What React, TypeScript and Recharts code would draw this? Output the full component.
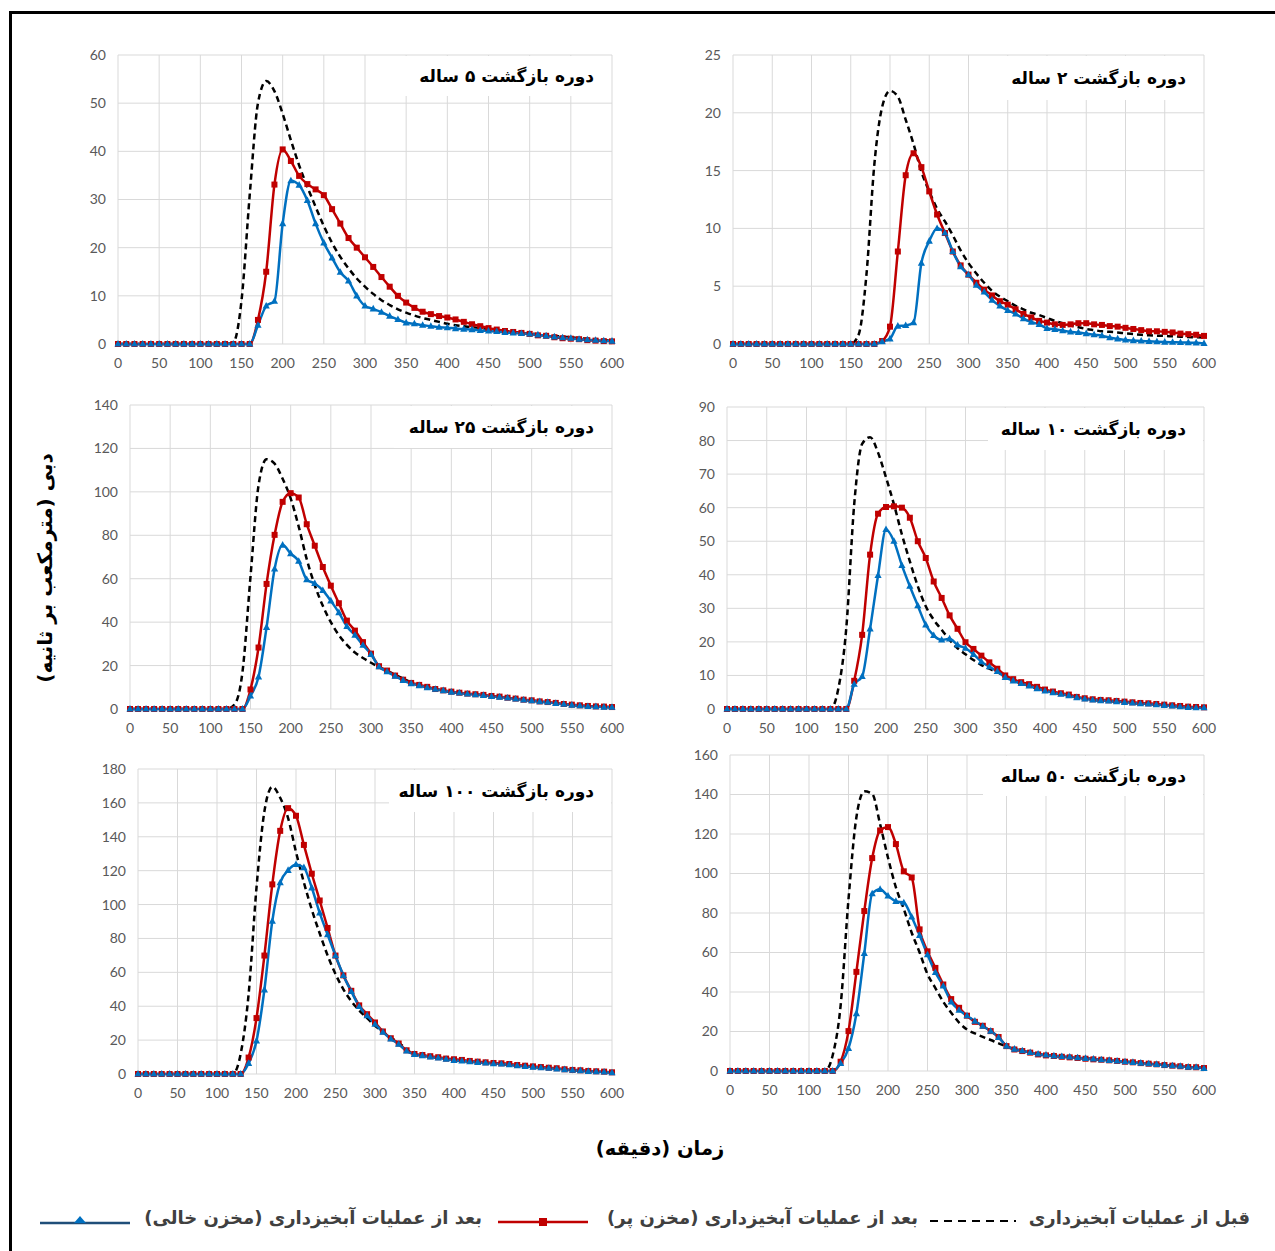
import { CartesianGrid, Line, LineChart, XAxis, YAxis } from "recharts";

// Minutes since start of storm, one sample every 10 minutes.
const TIME = [
  0, 10, 20, 30, 40, 50, 60, 70, 80, 90, 100, 110, 120, 130, 140, 150, 160, 170, 180, 190, 200,
  210, 220, 230, 240, 250, 260, 270, 280, 290, 300, 310, 320, 330, 340, 350, 360, 370, 380, 390,
  400, 410, 420, 430, 440, 450, 460, 470, 480, 490, 500, 510, 520, 530, 540, 550, 560, 570, 580,
  590, 600,
];
const X_TICKS = [0, 50, 100, 150, 200, 250, 300, 350, 400, 450, 500, 550, 600];

// --- 5 year return period ---
const BEFORE_5 = [
  0, 0, 0, 0, 0, 0, 0, 0, 0, 0, 0, 0, 0, 0, 0.3, 9, 31, 50, 54.6, 52.5, 47.8, 42.3, 37.1, 32.6,
  28.5, 24.5, 21, 18.1, 15.7, 13.6, 11.9, 10.4, 9.1, 8.1, 7.2, 6.5, 5.9, 5.4, 5.0, 4.6, 4.2, 3.9,
  3.7, 3.5, 3.3, 3.1, 2.9, 2.7, 2.5, 2.3, 2.2, 2.0, 1.8, 1.7, 1.5, 1.4, 1.2, 1.1, 0.9, 0.8, 0.7,
];
const FULL_5 = [
  0, 0, 0, 0, 0, 0, 0, 0, 0, 0, 0, 0, 0, 0, 0, 0, 0, 5.0, 15.0, 33.1, 40.4, 38.0, 34.9, 33.2,
  32.1, 30.9, 28.0, 25.0, 22.0, 20.0, 18.0, 16.0, 13.9, 11.9, 10.0, 8.6, 7.5, 6.7, 6.2, 5.8, 5.5,
  5.1, 4.6, 4.1, 3.7, 3.3, 3.0, 2.7, 2.5, 2.3, 2.1, 1.8, 1.7, 1.4, 1.2, 1.1, 1.0, 0.8, 0.7, 0.6,
  0.55,
];
const EMPTY_5 = [
  0, 0, 0, 0, 0, 0, 0, 0, 0, 0, 0, 0, 0, 0, 0, 0, 0, 3.9, 7.9, 8.9, 25.0, 33.9, 33.0, 29.8, 25.0,
  21.0, 17.9, 14.9, 13.1, 10.0, 7.9, 7.3, 6.6, 5.8, 5.1, 4.4, 4.2, 3.9, 3.7, 3.5, 3.4, 3.2, 3.1,
  3.0, 2.8, 2.7, 2.6, 2.4, 2.3, 2.2, 2.1, 1.9, 1.7, 1.5, 1.3, 1.2, 1.0, 0.9, 0.8, 0.7, 0.6,
];

// --- 2 year return period ---
const BEFORE_2 = [
  0, 0, 0, 0, 0, 0, 0, 0, 0, 0, 0, 0, 0, 0, 0, 0, 0.8, 6, 15.5, 20.5, 21.9, 21.4, 19.4, 17.3, 14.9,
  13.2, 11.7, 10.6, 9.4, 8.1, 7.0, 6.1, 5.3, 4.6, 4.1, 3.7, 3.3, 3.0, 2.7, 2.5, 2.25, 2.0, 1.8,
  1.6, 1.45, 1.3, 1.2, 1.1, 1.05, 1.0, 0.92, 0.86, 0.8, 0.75, 0.72, 0.7, 0.66, 0.63, 0.6, 0.58,
  0.55,
];
const FULL_2 = [
  0, 0, 0, 0, 0, 0, 0, 0, 0, 0, 0, 0, 0, 0, 0, 0, 0, 0, 0, 0.26, 1.5, 8.0, 14.6, 16.5, 15.3, 13.2,
  11.2, 9.6, 8.0, 6.8, 6.0, 5.3, 4.7, 4.2, 3.7, 3.4, 3.0, 2.6, 2.3, 2.0, 1.85, 1.7, 1.65, 1.7, 1.8,
  1.8, 1.7, 1.65, 1.55, 1.5, 1.4, 1.3, 1.2, 1.1, 1.1, 1.05, 1.0, 0.9, 0.85, 0.8, 0.7,
];
const EMPTY_2 = [
  0, 0, 0, 0, 0, 0, 0, 0, 0, 0, 0, 0, 0, 0, 0, 0, 0, 0, 0, 0.2, 0.45, 1.55, 1.6, 1.85, 7.0, 8.9,
  10.0, 9.6, 8.0, 6.7, 6.0, 5.1, 4.5, 3.8, 3.3, 2.9, 2.6, 2.2, 1.9, 1.7, 1.35, 1.27, 1.15, 1.05,
  1.0, 0.9, 0.8, 0.72, 0.55, 0.45, 0.35, 0.3, 0.26, 0.23, 0.2, 0.17, 0.15, 0.14, 0.12, 0.1, 0.05,
];

// --- 25 year return period ---
const BEFORE_25 = [
  0, 0, 0, 0, 0, 0, 0, 0, 0, 0, 0, 0, 0, 2, 17, 61, 103, 115, 113, 106, 97, 84, 69, 57, 47.5, 40,
  34, 29.5, 26, 23.5, 21.3, 19.3, 17.6, 15.8, 14, 12.2, 11, 10.1, 9.1, 8.5, 7.8, 7.4, 6.9, 6.6,
  6.3, 5.8, 5.5, 5.1, 4.6, 4.2, 3.8, 3.4, 3.1, 2.6, 2.2, 1.8, 1.5, 1.2, 1.1, 0.9, 0.8,
];
const FULL_25 = [
  0, 0, 0, 0, 0, 0, 0, 0, 0, 0, 0, 0, 0, 0, 0, 9.0, 28.3, 57.6, 80.2, 95.4, 99.4, 97.4, 85.1,
  75.2, 65.4, 56.8, 48.7, 40.7, 36.1, 30.8, 25.5, 19.7, 17.7, 15.4, 13.5, 12.0, 11.1, 10.2, 9.2,
  8.6, 8.0, 7.5, 7.1, 6.8, 6.5, 6.0, 5.7, 5.2, 4.8, 4.3, 4.0, 3.5, 3.2, 2.8, 2.3, 2.0, 1.7, 1.4,
  1.2, 1.1, 0.9,
];
const EMPTY_25 = [
  0, 0, 0, 0, 0, 0, 0, 0, 0, 0, 0, 0, 0, 0, 0, 6.0, 14.8, 37.6, 64.5, 75.5, 71.6, 68.1, 59.6,
  57.8, 54.6, 49.8, 44.4, 38.0, 34.0, 29.4, 25.2, 19.5, 17.2, 15.1, 13.2, 11.7, 10.8, 9.8, 9.1,
  8.5, 7.8, 7.4, 6.9, 6.6, 6.3, 5.8, 5.5, 5.1, 4.6, 4.2, 3.8, 3.4, 3.1, 2.6, 2.2, 1.8, 1.5, 1.2,
  1.1, 0.9, 0.8,
];

// --- 10 year return period ---
const BEFORE_10 = [
  0, 0, 0, 0, 0, 0, 0, 0, 0, 0, 0, 0, 0, 0, 6, 24, 61, 79, 81, 76.4, 69, 61, 52, 44, 36.6, 30.6,
  26.6, 23.6, 20.6, 18.1, 16.3, 14.6, 13.1, 12.0, 10.9, 9.9, 8.6, 7.7, 6.9, 6.1, 5.4, 4.9, 4.4,
  4.0, 3.4, 3.0, 2.7, 2.5, 2.4, 2.2, 2.0, 1.8, 1.6, 1.5, 1.3, 1.1, 0.9, 0.7, 0.5, 0.4, 0.4,
];
const FULL_10 = [
  0, 0, 0, 0, 0, 0, 0, 0, 0, 0, 0, 0, 0, 0, 0, 0, 8.4, 22.1, 46.0, 58.2, 60.2, 60.4, 60.0, 57.0,
  50.0, 45.0, 38.0, 33.1, 27.9, 23.9, 19.9, 17.9, 15.9, 13.9, 12.0, 10.0, 8.9, 8.0, 7.4, 6.6, 5.8,
  5.2, 4.7, 4.3, 3.6, 3.2, 2.9, 2.7, 2.6, 2.4, 2.2, 2.0, 1.8, 1.7, 1.5, 1.3, 1.1, 0.9, 0.7, 0.6,
  0.5,
];
const EMPTY_10 = [
  0, 0, 0, 0, 0, 0, 0, 0, 0, 0, 0, 0, 0, 0, 0, 0, 7.4, 9.7, 23.9, 39.8, 53.5, 50.0, 42.8, 36.6,
  30.8, 25.1, 21.9, 20.6, 20.9, 19.1, 18.1, 16.3, 14.1, 12.6, 11.2, 9.4, 8.4, 7.6, 6.9, 6.1, 5.4,
  4.9, 4.4, 4.0, 3.4, 3.0, 2.7, 2.5, 2.4, 2.2, 2.0, 1.8, 1.6, 1.5, 1.3, 1.1, 0.9, 0.7, 0.5, 0.4,
  0.4,
];

// --- 100 year return period ---
const BEFORE_100 = [
  0, 0, 0, 0, 0, 0, 0, 0, 0, 0, 0, 0, 0, 12, 47, 110, 155, 169.5, 163, 151, 131, 113, 97, 83, 70,
  59, 50, 43, 37.5, 33, 28.5, 25, 21.5, 18.5, 14.5, 11.6, 10.9, 10.1, 9.5, 8.7, 8.1, 7.7, 7.3,
  6.9, 6.5, 6.1, 5.9, 5.5, 4.9, 4.5, 4.1, 3.7, 3.4, 3.0, 2.6, 2.2, 2.0, 1.6, 1.4, 1.2, 0.8,
];
const FULL_100 = [
  0, 0, 0, 0, 0, 0, 0, 0, 0, 0, 0, 0, 0, 0, 9.7, 33, 69.9, 111.9, 143.5, 156.9, 152.4, 135.2,
  118.2, 102.4, 86.2, 69.9, 58.2, 49.1, 40.5, 35.3, 30.4, 25.1, 21.1, 18.0, 14.0, 11.8, 11.2,
  10.5, 9.9, 9.1, 8.7, 8.3, 7.7, 7.3, 6.9, 6.5, 6.3, 5.9, 5.3, 4.9, 4.5, 4.1, 3.7, 3.4, 2.8, 2.4,
  2.2, 1.8, 1.6, 1.4, 1.0,
];
const EMPTY_100 = [
  0, 0, 0, 0, 0, 0, 0, 0, 0, 0, 0, 0, 0, 0, 6.3, 19.5, 49.7, 90.2, 112.9, 120.2, 123.7, 121.8,
  109.9, 95.1, 82.3, 69.9, 58.2, 48.7, 39.9, 34.5, 29.4, 24.7, 20.7, 17.6, 13.6, 11.6, 10.9, 10.1,
  9.5, 8.7, 8.1, 7.7, 7.3, 6.9, 6.5, 6.1, 5.9, 5.5, 4.9, 4.5, 4.1, 3.7, 3.4, 3.0, 2.6, 2.2, 2.0,
  1.6, 1.4, 1.2, 0.8,
];

// --- 50 year return period ---
const BEFORE_50 = [
  0, 0, 0, 0, 0, 0, 0, 0, 0, 0, 0, 0, 0, 8, 33, 87, 128.5, 141.6, 140.3, 125, 108, 93, 82, 70, 60,
  49, 42, 35, 29.5, 24.5, 21, 19, 17.3, 15.7, 14, 12.5, 11.1, 10.3, 9.4, 8.6, 8.1, 7.7, 7.4, 7.1,
  6.7, 6.4, 6.1, 5.7, 5.4, 5.1, 4.7, 4.4, 4.0, 3.7, 3.4, 3.0, 2.7, 2.4, 2.0, 1.9, 1.3,
];
const FULL_50 = [
  0, 0, 0, 0, 0, 0, 0, 0, 0, 0, 0, 0, 0, 0, 4.7, 20.2, 50.2, 81.0, 107.8, 121.8, 123.5, 114.9,
  101.1, 98.0, 71.7, 60.6, 52.2, 43.8, 36.4, 32.0, 28.0, 24.9, 22.9, 20.2, 17.2, 12.6, 10.9, 10.1,
  9.3, 8.4, 7.9, 7.6, 7.2, 6.9, 6.6, 6.2, 5.9, 5.7, 5.4, 5.1, 4.7, 4.4, 4.0, 3.7, 3.4, 3.0, 2.7,
  2.4, 2.0, 1.9, 1.5,
];
const EMPTY_50 = [
  0, 0, 0, 0, 0, 0, 0, 0, 0, 0, 0, 0, 0, 0, 3.9, 11.5, 29.1, 59.5, 89.8, 92.0, 88.6, 85.9, 85.2,
  78.0, 68.7, 58.9, 49.9, 43.1, 35.0, 30.8, 28.0, 25.3, 22.7, 20.2, 17.0, 12.6, 11.1, 10.3, 9.4,
  8.6, 8.1, 7.7, 7.4, 7.1, 6.7, 6.4, 6.1, 5.7, 5.4, 5.1, 4.7, 4.4, 4.0, 3.7, 3.4, 3.0, 2.7, 2.4,
  2.0, 1.9, 1.3,
];

const LEGEND_BEFORE = "قبل از عملیات آبخیزداری";
const LEGEND_FULL = "بعد از عملیات آبخیزداری (مخزن پر)";
const LEGEND_EMPTY = "بعد از عملیات آبخیزداری (مخزن خالی)";

const RED = "#C00000";
const BLUE = "#0070C0";
const FA = "'DejaVu Sans', sans-serif";
const TICK = { fill: "#595959", fontSize: 14, fontFamily: "Lato, sans-serif" };

const squareDot = (p: any) => (
  <rect key={`s${p.index}`} x={p.cx - 3} y={p.cy - 3} width={6} height={6} fill={RED} />
);
const triDot = (p: any) => (
  <path
    key={`t${p.index}`}
    d={`M${p.cx},${p.cy - 4}L${p.cx + 3.6},${p.cy + 2.6}L${p.cx - 3.6},${p.cy + 2.6}Z`}
    fill={BLUE}
  />
);

interface PanelProps {
  title: string;
  x: number; // plot area, page coordinates
  y: number;
  w: number;
  h: number;
  yTicks: number[];
  before: number[];
  full: number[];
  empty: number[];
  box: [number, number, number, number]; // title box left, top, right, bottom
}

function Panel({ title, x, y, w, h, yTicks, before, full, empty, box }: PanelProps) {
  const data = TIME.map((t, i) => ({ t, before: before[i], full: full[i], empty: empty[i] }));
  const ml = 60;
  const mr = 22;
  const mt = 10;
  const mb = 30;
  return (
    <>
      <div style={{ position: "absolute", left: x - ml, top: y - mt }}>
        <LineChart
          width={w + ml + mr}
          height={h + mt + mb}
          data={data}
          margin={{ top: mt, right: mr, bottom: 0, left: 0 }}
        >
          <CartesianGrid stroke="#D9D9D9" strokeWidth={1} />
          <XAxis
            dataKey="t"
            type="number"
            domain={[0, 600]}
            ticks={X_TICKS}
            interval={0}
            axisLine={false}
            tickLine={false}
            tick={TICK}
            tickMargin={8}
            height={mb}
          />
          <YAxis
            domain={[0, yTicks[yTicks.length - 1]]}
            ticks={yTicks}
            interval={0}
            width={ml}
            axisLine={false}
            tickLine={false}
            tick={TICK}
            tickMargin={6}
          />
          <Line
            type="monotone"
            dataKey="before"
            stroke="#000"
            strokeWidth={2.5}
            strokeDasharray="6 4"
            dot={false}
            isAnimationActive={false}
          />
          <Line
            type="monotone"
            dataKey="full"
            stroke={RED}
            strokeWidth={2.5}
            dot={squareDot}
            isAnimationActive={false}
          />
          <Line
            type="monotone"
            dataKey="empty"
            stroke={BLUE}
            strokeWidth={2.5}
            dot={triDot}
            isAnimationActive={false}
          />
        </LineChart>
      </div>
      <div
        style={{
          position: "absolute",
          left: box[0],
          top: box[1],
          width: box[2] - box[0],
          height: box[3] - box[1],
          background: "#fff",
          display: "flex",
          alignItems: "center",
          justifyContent: "flex-start",
          paddingRight: 17,
          boxSizing: "border-box",
          direction: "rtl",
          fontFamily: FA,
          fontWeight: "bold",
          fontSize: 17,
          color: "#000",
          whiteSpace: "nowrap",
        }}
      >
        {title}
      </div>
    </>
  );
}

const legendText = {
  position: "absolute" as const,
  top: 1207,
  direction: "rtl" as const,
  fontFamily: FA,
  fontWeight: "bold" as const,
  fontSize: 18,
  color: "#404040",
  whiteSpace: "nowrap" as const,
};

export default function App() {
  return (
    <div
      style={{
        position: "absolute",
        left: 0,
        top: 0,
        width: 1275,
        height: 1251,
        background: "#fff",
        overflow: "hidden",
      }}
    >
      <div style={{ position: "absolute", left: 9, top: 11, width: 1266, height: 3, background: "#000" }} />
      <div style={{ position: "absolute", left: 9, top: 11, width: 3, height: 1240, background: "#000" }} />

      <Panel
        title="دوره بازگشت ۵ ساله"
        x={118}
        y={55}
        w={494}
        h={289}
        yTicks={[0, 10, 20, 30, 40, 50, 60]}
        before={BEFORE_5}
        full={FULL_5}
        empty={EMPTY_5}
        box={[402, 56, 611, 96]}
      />
      <Panel
        title="دوره بازگشت ۲ ساله"
        x={733}
        y={55}
        w={471}
        h={289}
        yTicks={[0, 5, 10, 15, 20, 25]}
        before={BEFORE_2}
        full={FULL_2}
        empty={EMPTY_2}
        box={[1001, 56, 1203, 100]}
      />
      <Panel
        title="دوره بازگشت ۲۵ ساله"
        x={130}
        y={405}
        w={482}
        h={304}
        yTicks={[0, 20, 40, 60, 80, 100, 120, 140]}
        before={BEFORE_25}
        full={FULL_25}
        empty={EMPTY_25}
        box={[394, 406, 611, 448]}
      />
      <Panel
        title="دوره بازگشت ۱۰ ساله"
        x={727}
        y={407}
        w={477}
        h={302}
        yTicks={[0, 10, 20, 30, 40, 50, 60, 70, 80, 90]}
        before={BEFORE_10}
        full={FULL_10}
        empty={EMPTY_10}
        box={[988, 408, 1203, 450]}
      />
      <Panel
        title="دوره بازگشت ۱۰۰ ساله"
        x={138}
        y={769}
        w={474}
        h={305}
        yTicks={[0, 20, 40, 60, 80, 100, 120, 140, 160, 180]}
        before={BEFORE_100}
        full={FULL_100}
        empty={EMPTY_100}
        box={[389, 770, 611, 812]}
      />
      <Panel
        title="دوره بازگشت ۵۰ ساله"
        x={730}
        y={755}
        w={474}
        h={316}
        yTicks={[0, 20, 40, 60, 80, 100, 120, 140, 160]}
        before={BEFORE_50}
        full={FULL_50}
        empty={EMPTY_50}
        box={[983, 756, 1203, 796]}
      />

      {/* axis titles */}
      <div
        style={{
          position: "absolute",
          left: 45,
          top: 568,
          transform: "translate(-50%, -50%) rotate(-90deg)",
          direction: "rtl",
          fontFamily: FA,
          fontWeight: "bold",
          fontSize: 20,
          whiteSpace: "nowrap",
          color: "#000",
        }}
      >
        دبی (مترمکعب بر ثانیه)
      </div>
      <div
        style={{
          position: "absolute",
          left: 660,
          top: 1148,
          transform: "translate(-50%, -50%)",
          direction: "rtl",
          fontFamily: FA,
          fontWeight: "bold",
          fontSize: 19.5,
          whiteSpace: "nowrap",
          color: "#000",
        }}
      >
        زمان (دقیقه)
      </div>

      {/* legend */}
      <div style={{ ...legendText, right: 1275 - 1250 }}>{LEGEND_BEFORE}</div>
      <svg style={{ position: "absolute", left: 928, top: 1212 }} width={90} height={16}>
        <line x1={2} y1={9} x2={88} y2={9} stroke="#000" strokeWidth={2} strokeDasharray="8 6" />
      </svg>
      <div style={{ ...legendText, right: 1275 - 918 }}>{LEGEND_FULL}</div>
      <svg style={{ position: "absolute", left: 498, top: 1212 }} width={90} height={16}>
        <line x1={0} y1={10} x2={90} y2={10} stroke={RED} strokeWidth={2.5} />
        <rect x={41} y={6} width={8} height={8} fill={RED} />
      </svg>
      <div style={{ ...legendText, right: 1275 - 482 }}>{LEGEND_EMPTY}</div>
      <svg style={{ position: "absolute", left: 40, top: 1212 }} width={90} height={16}>
        <line x1={0} y1={11} x2={90} y2={11} stroke="#1F4E79" strokeWidth={2.5} />
        <path d="M40,4L46,11L34,11Z" fill={BLUE} />
      </svg>
    </div>
  );
}
